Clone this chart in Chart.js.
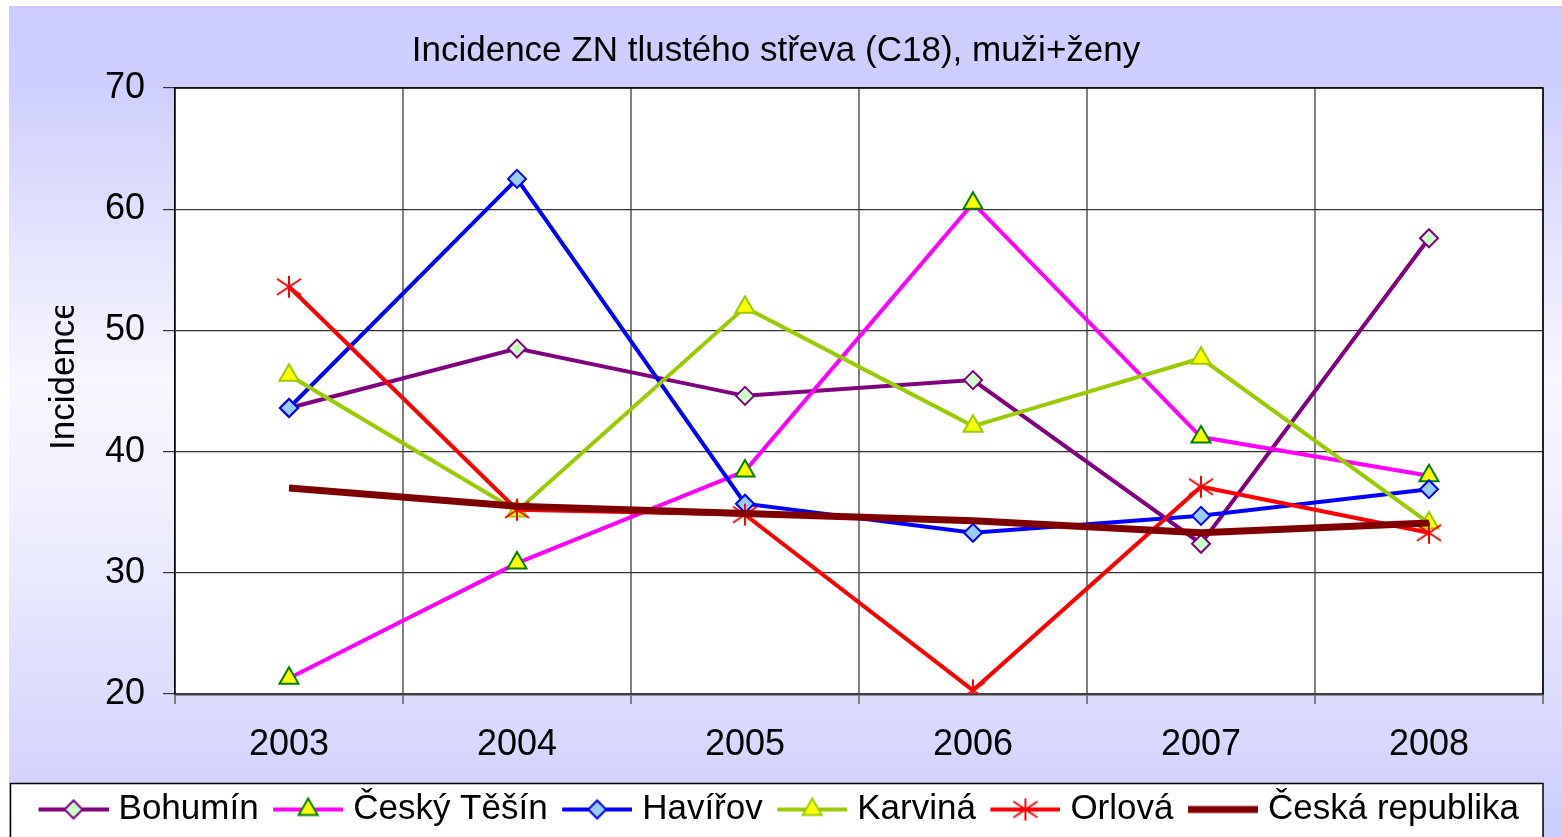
<!DOCTYPE html>
<html lang="cs">
<head>
<meta charset="utf-8">
<title>Incidence ZN tlustého střeva (C18), muži+ženy</title>
<script src="https://cdn.jsdelivr.net/npm/chart.js@4/dist/chart.umd.min.js"></script>
<style>
  html, body { margin: 0; padding: 0; background: #ffffff; overflow: hidden; }
  #wrap { position: relative; width: 1562px; height: 837px; }
</style>
</head>
<body>
<div id="wrap"><canvas id="chart"></canvas></div>
<script>
// Data
const years = ["2003", "2004", "2005", "2006", "2007", "2008"];
const bohumin = [43.6, 48.5, 44.6, 45.9, 32.4, 57.6];
const ceskyTesin = [21.3, 30.8, 38.4, 60.5, 41.2, 38.0];
const havirov = [43.6, 62.5, 35.7, 33.3, 34.7, 36.9];
const karvina = [46.3, 35.1, 51.9, 42.1, 47.7, 34.1];
const orlova = [53.6, 35.2, 34.8, 20.3, 37.1, 33.3];
const ceskaRepublika = [37.0, 35.5, 34.9, 34.3, 33.3, 34.1];

const yMin = 20;
const yMax = 70;
const yStep = 10;

const FONT = '"Liberation Sans", Arial, sans-serif';
Chart.defaults.font.family = FONT;
Chart.defaults.color = "#000000";

// Excel-like star marker (vertical stroke + X)
function starMarker(color) {
  const c = document.createElement("canvas");
  c.width = 28;
  c.height = 26;
  const g = c.getContext("2d");
  g.strokeStyle = color;
  g.lineWidth = 2;
  g.beginPath();
  g.moveTo(14, 2); g.lineTo(14, 24);
  g.moveTo(2, 5); g.lineTo(26, 21);
  g.moveTo(2, 21); g.lineTo(26, 5);
  g.stroke();
  return c;
}

// Legend symbol: line segment with the marker in its middle
function legendSymbol(ds) {
  const c = document.createElement("canvas");
  c.width = 83;
  c.height = 28;
  const g = c.getContext("2d");
  g.strokeStyle = ds.borderColor;
  g.lineWidth = ds.borderWidth;
  g.beginPath();
  g.moveTo(13, 14);
  g.lineTo(83, 14);
  g.stroke();
  if (ds.pointStyle instanceof HTMLCanvasElement) {
    g.drawImage(ds.pointStyle, 48 - ds.pointStyle.width / 2, 14 - ds.pointStyle.height / 2);
  } else if (ds.pointRadius > 0) {
    g.fillStyle = ds.pointBackgroundColor;
    g.strokeStyle = ds.pointBorderColor;
    g.lineWidth = ds.pointBorderWidth;
    Chart.helpers.drawPoint(g, {
      pointStyle: ds.pointStyle,
      radius: ds.pointRadius,
      rotation: 0,
      borderWidth: ds.pointBorderWidth,
    }, 48, 14);
  }
  return c;
}

const datasets = [
  {
    label: "Bohumín",
    data: bohumin,
    borderColor: "#800080",
    borderWidth: 4,
    pointStyle: "rectRot",
    pointRadius: 9,
    pointBackgroundColor: "#CCFFCC",
    pointBorderColor: "#800080",
    pointBorderWidth: 2,
    order: 6,
  },
  {
    label: "Český Těšín",
    data: ceskyTesin,
    borderColor: "#FF00FF",
    borderWidth: 4,
    pointStyle: "triangle",
    pointRadius: 11,
    pointBackgroundColor: "#FFFF00",
    pointBorderColor: "#008000",
    pointBorderWidth: 2,
    order: 5,
  },
  {
    label: "Havířov",
    data: havirov,
    borderColor: "#0000FF",
    borderWidth: 4,
    pointStyle: "rectRot",
    pointRadius: 9,
    pointBackgroundColor: "#99CCFF",
    pointBorderColor: "#0000FF",
    pointBorderWidth: 2,
    order: 4,
  },
  {
    label: "Karviná",
    data: karvina,
    borderColor: "#99CC00",
    borderWidth: 4,
    pointStyle: "triangle",
    pointRadius: 11,
    pointBackgroundColor: "#FFFF00",
    pointBorderColor: "#99CC00",
    pointBorderWidth: 2,
    order: 3,
  },
  {
    label: "Orlová",
    data: orlova,
    borderColor: "#FF0000",
    borderWidth: 4,
    pointStyle: starMarker("#FF0000"),
    pointRadius: 12,
    pointBackgroundColor: "#FF0000",
    pointBorderColor: "#FF0000",
    pointBorderWidth: 2,
    order: 2,
  },
  {
    label: "Česká republika",
    data: ceskaRepublika,
    borderColor: "#800000",
    borderWidth: 7,
    pointStyle: "circle",
    pointRadius: 0,
    order: 1,
  },
];
datasets.forEach((ds) => {
  ds.fill = false;
  ds.tension = 0;
  ds.pointHoverRadius = ds.pointRadius;
  ds.legendImage = legendSymbol(ds);
});

// Background, white plot area, legend frame, plot border, y title
const decor = {
  id: "decor",
  beforeDraw(chart) {
    const ctx = chart.ctx;
    const a = chart.chartArea;
    ctx.save();
    const grad = ctx.createLinearGradient(0, 6, 0, chart.height);
    grad.addColorStop(0, "#CCCCFF");
    grad.addColorStop(0.1, "#CFCFFF");
    grad.addColorStop(0.45, "#F7F7FF");
    grad.addColorStop(0.6, "#F0F0FF");
    grad.addColorStop(0.88, "#D8D8FF");
    grad.addColorStop(1, "#CCCCFF");
    ctx.fillStyle = grad;
    ctx.fillRect(9, 6, chart.width - 9, chart.height - 6);

    ctx.fillStyle = "#FFFFFF";
    ctx.fillRect(a.left, a.top, a.right - a.left, a.bottom - a.top);

    const lg = chart.legend;
    ctx.fillRect(lg.left + 1, lg.top, lg.right - lg.left - 1, lg.bottom - lg.top + 2);
    ctx.strokeStyle = "#000000";
    ctx.lineWidth = 1.5;
    ctx.strokeRect(lg.left + 1.5, lg.top + 0.5, lg.right - lg.left - 1.5, lg.bottom - lg.top + 4);
    ctx.restore();
  },
  beforeDatasetsDraw(chart) {
    const ctx = chart.ctx;
    const a = chart.chartArea;
    ctx.save();
    ctx.strokeStyle = "#000000";
    ctx.lineWidth = 1.5;
    ctx.beginPath();
    ctx.moveTo(a.left, a.top);
    ctx.lineTo(a.right, a.top);
    ctx.lineTo(a.right, a.bottom);
    ctx.stroke();
    ctx.restore();
  },
  afterDraw(chart) {
    const ctx = chart.ctx;
    ctx.save();
    ctx.beginPath();
    ctx.rect(0, 306, 175, 300);
    ctx.clip();
    ctx.translate(74, 450);
    ctx.rotate(-Math.PI / 2);
    ctx.font = "35px " + FONT;
    ctx.fillStyle = "#000000";
    ctx.textAlign = "left";
    ctx.textBaseline = "alphabetic";
    ctx.fillText("Incidence", 0, 0);
    ctx.restore();
  },
};

new Chart(document.getElementById("chart"), {
  type: "line",
  data: { labels: years, datasets: datasets },
  options: {
    responsive: true,
    maintainAspectRatio: false,
    animation: false,
    events: [],
    layout: { padding: { left: 9, top: 6, right: 19, bottom: 0 } },
    plugins: {
      title: {
        display: true,
        text: "Incidence ZN tlustého střeva (C18), muži+ženy",
        color: "#000000",
        font: { size: 35, weight: "normal" },
        padding: { top: 24, bottom: 16 },
      },
      legend: {
        position: "bottom",
        labels: {
          usePointStyle: true,
          pointStyleWidth: 68,
          padding: 9,
          color: "#000000",
          font: { size: 35 },
          generateLabels: (chart) =>
            chart.data.datasets.map((ds, i) => ({
              text: ds.label,
              pointStyle: ds.legendImage,
              fillStyle: ds.borderColor,
              strokeStyle: ds.borderColor,
              lineWidth: 0,
              hidden: false,
              fontColor: "#000000",
              datasetIndex: i,
            })),
        },
      },
      tooltip: { enabled: false },
    },
    scales: {
      x: {
        offset: true,
        grid: {
          offset: true,
          color: "#808080",
          lineWidth: 2,
          tickLength: 10,
        },
        border: { color: "#404040", width: 2.5 },
        ticks: { font: { size: 36 }, color: "#000000", padding: 19, maxRotation: 0 },
        afterFit: (scale) => { scale.height = 89; },
      },
      y: {
        min: yMin,
        max: yMax,
        grid: { color: "#333333", lineWidth: 1.2, tickLength: 12 },
        border: { color: "#000000", width: 1.5 },
        ticks: { stepSize: yStep, font: { size: 36 }, color: "#000000", padding: 18 },
        afterFit: (scale) => { scale.width = 166; },
      },
    },
  },
  plugins: [decor],
});
</script>
</body>
</html>
